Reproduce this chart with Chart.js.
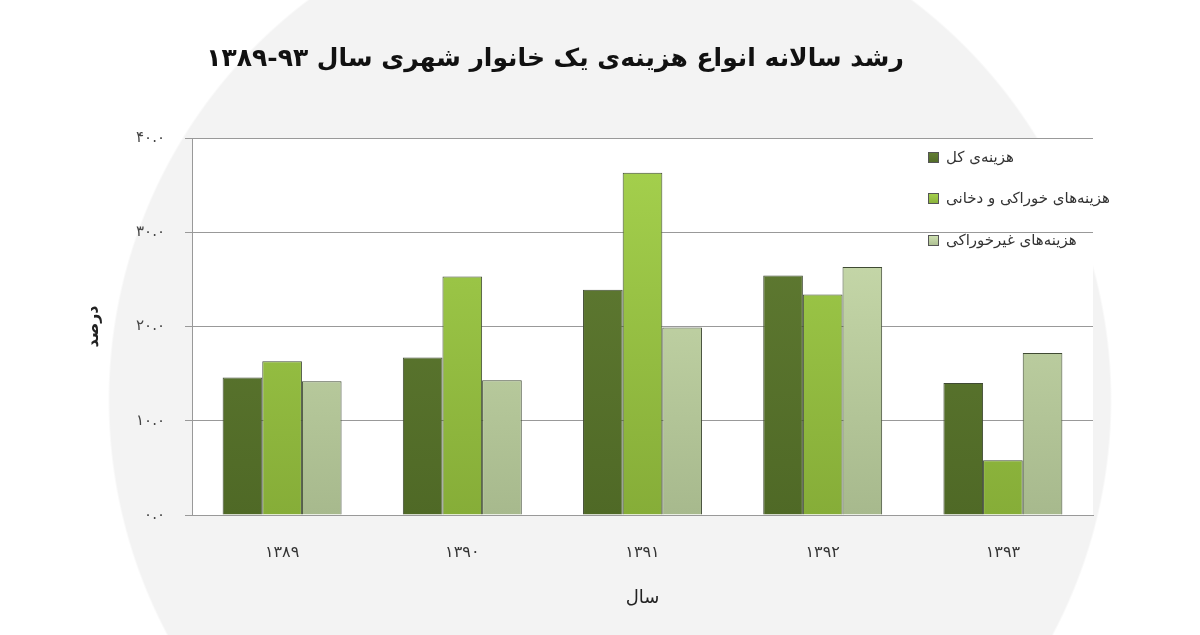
<!DOCTYPE html>
<html>
<head>
<meta charset="utf-8">
<script src="https://cdn.jsdelivr.net/npm/chart.js@4.4.1/dist/chart.umd.min.js"></script>
<style>
  html, body { margin: 0; padding: 0; background: #fff; }
  #wrap {
    width: 1200px; height: 635px; position: relative;
    background: radial-gradient(circle at 610px 400px, #f3f3f3 0, #f3f3f3 500px, #fff 502px);
  }
</style>
</head>
<body>
<div id="wrap"><canvas id="chart" width="1200" height="635"></canvas></div>
<script>
// داده‌ها
const years = ["۱۳۸۹", "۱۳۹۰", "۱۳۹۱", "۱۳۹۲", "۱۳۹۳"];
const seriesNames = ["هزینه‌ی کل", "هزینه‌های خوراکی و دخانی", "هزینه‌های غیرخوراکی"];
const totalCost = [14.6, 16.7, 23.9, 25.4, 14.0];
const foodCost = [16.3, 25.3, 36.3, 23.4, 5.8];
const nonFoodCost = [14.2, 14.3, 19.9, 26.3, 17.2];
const yTickLabels = ["۰.۰", "۱۰.۰", "۲۰.۰", "۳۰.۰", "۴۰.۰"];

const titleText = "رشد سالانه انواع هزینه‌ی یک خانوار شهری سال ۹۳-۱۳۸۹";

// رنگ‌ها (بالا / پایین)
const palette = [
  ["#647f35", "#4f6926"],
  ["#a6d24e", "#86ad38"],
  ["#d2e4b4", "#a7b98d"],
];

function gradientFor(i) {
  return (ctx) => {
    const area = ctx.chart.chartArea;
    if (!area) return palette[i][1];
    const g = ctx.chart.ctx.createLinearGradient(0, area.top, 0, area.bottom);
    g.addColorStop(0, palette[i][0]);
    g.addColorStop(1, palette[i][1]);
    return g;
  };
}

// زمینه‌ی سفید ناحیه‌ی نمودار
const plotBg = {
  id: "plotBg",
  beforeDraw(chart) {
    const { ctx, chartArea: a } = chart;
    ctx.save();
    ctx.fillStyle = "#ffffff";
    ctx.fillRect(a.left, a.top, a.right - a.left, a.bottom - a.top);
    ctx.restore();
  },
};

// راهنما داخل نمودار
const insideLegend = {
  id: "insideLegend",
  afterDraw(chart) {
    const { ctx } = chart;
    const x = 928, ys = [158, 199, 241];
    ctx.save();
    chart.data.datasets.forEach((ds, i) => {
      const y = ys[i];
      const g = ctx.createLinearGradient(0, y - 6, 0, y + 6);
      g.addColorStop(0, palette[i][0]);
      g.addColorStop(1, palette[i][1]);
      ctx.fillStyle = g;
      ctx.fillRect(x, y - 6, 11, 11);
      ctx.strokeStyle = "#555";
      ctx.lineWidth = 1;
      ctx.strokeRect(x + 0.5, y - 5.5, 10, 10);
      ctx.fillStyle = "#333";
      ctx.font = "15px 'DejaVu Sans', 'Noto Sans'";
      ctx.textBaseline = "middle";
      ctx.textAlign = "left";
      ctx.direction = "rtl";
      ctx.fillText(ds.label, x + 18, y);
    });
    ctx.restore();
  },
};

new Chart(document.getElementById("chart"), {
  type: "bar",
  data: {
    labels: years,
    datasets: [totalCost, foodCost, nonFoodCost].map((d, i) => ({
      label: seriesNames[i],
      data: d,
      backgroundColor: gradientFor(i),
      borderColor: "#3f4a33",
      borderWidth: 1,
      categoryPercentage: 0.66,
      barPercentage: 1.0,
    })),
  },
  options: {
    responsive: false,
    animation: false,
    layout: { padding: { left: 17, right: 107, top: 44, bottom: 14 } },
    plugins: {
      legend: { display: false },
      tooltip: { enabled: false },
      title: {
        display: true,
        text: titleText,
        color: "#111",
        font: { family: "'DejaVu Serif', 'DejaVu Sans'", size: 25, weight: "bold" },
        padding: { top: 0, bottom: 64 },
      },
    },
    scales: {
      x: {
        grid: { display: false, drawTicks: false },
        border: { color: "#999", width: 1 },
        ticks: {
          color: "#333",
          padding: 28,
          font: { family: "'DejaVu Serif', 'DejaVu Sans'", size: 16 },
        },
        title: {
          display: true,
          text: "سال",
          color: "#222",
          font: { family: "'DejaVu Serif', 'DejaVu Sans'", size: 18 },
          padding: { top: 4, bottom: 12 },
        },
        afterFit(s) { s.height = 106; },
      },
      y: {
        min: 0,
        max: 40,
        ticks: {
          stepSize: 10,
          color: "#444",
          padding: 20,
          font: { family: "'DejaVu Sans'", size: 15 },
          callback: (v) => yTickLabels[v / 10],
        },
        grid: { color: "#999", tickLength: 7, lineWidth: 1 },
        border: { color: "#999", width: 1 },
        title: {
          display: true,
          text: "درصد",
          color: "#222",
          font: { family: "'DejaVu Sans'", size: 16, weight: "bold" },
          padding: { top: 67, bottom: 0 },
        },
        afterFit(s) { s.width = 175; },
      },
    },
  },
  plugins: [plotBg, insideLegend],
});
</script>
</body>
</html>
